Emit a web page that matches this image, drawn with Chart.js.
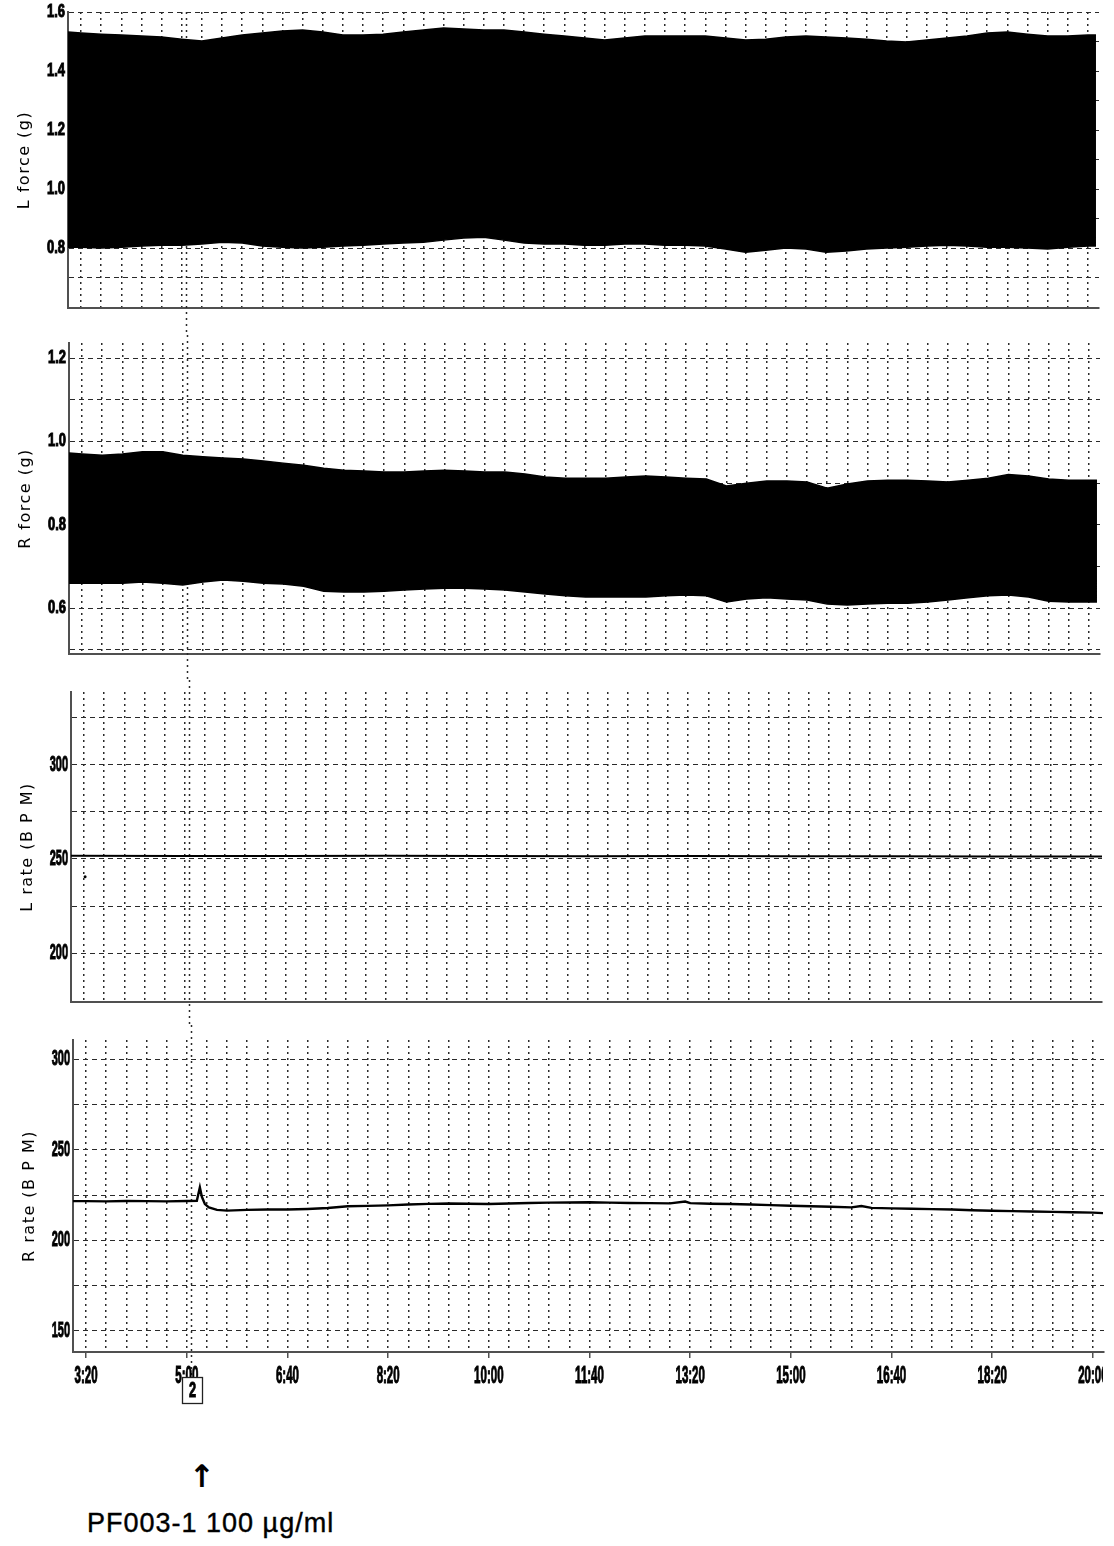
<!DOCTYPE html>
<html>
<head>
<meta charset="utf-8">
<script src="https://cdn.jsdelivr.net/npm/chart.js@4.4.1/dist/chart.umd.min.js"></script>
<style>
  body { margin: 0; background: #fff; width: 1114px; height: 1546px; position: relative; overflow: hidden; }
  canvas { position: absolute; }
  #arrow { position: absolute; left: 185px; top: 1461px; width: 34px; text-align: center;
           font: bold 31px "DejaVu Sans", sans-serif; line-height: 31px; color: #000; }
  #dose { position: absolute; left: 87px; top: 1510px; font: 27px "Liberation Sans", Arial, sans-serif;
          letter-spacing: 1px; line-height: 27px; color: #000; white-space: nowrap;
          -webkit-text-stroke: 0.4px #000; }
</style>
</head>
<body>
<canvas id="lForce" width="1114" height="335" style="left:-5px;top:0"></canvas>
<canvas id="rForce" width="1114" height="345" style="left:-4px;top:335px"></canvas>
<canvas id="lRate" width="1114" height="345" style="left:-2px;top:680px"></canvas>
<canvas id="rRate" width="1114" height="400" style="left:0;top:1025px"></canvas>
<div id="arrow">↑</div>
<div id="dose">PF003-1 100 µg/ml</div>

<script>
"use strict";

const INK = "#000";
const GRID = "#2a2a2a";
const AXIS = "#505050";

// time axis, minutes after midnight
const gridTimes = [200, 220, 240, 260, 280, 300, 320, 340, 360, 380, 400, 420, 440, 460, 480,
  500, 520, 540, 560, 580, 600, 620, 640, 660, 680, 700, 720, 740, 760, 780, 800, 820, 840,
  860, 880, 900, 920, 940, 960, 980, 1000, 1020, 1040, 1060, 1080, 1100, 1120, 1140, 1160,
  1180, 1200];
const labelTimes = [200, 300, 400, 500, 600, 700, 800, 900, 1000, 1100, 1200];
const doseTime = 304;
const doseMark = "2";

// contraction force envelopes (peak / trough of each beat), sampled every 20 min
const bandTimes = [187, 200, 220, 240, 260, 280, 300, 320, 340, 360, 380, 400, 420, 440, 460,
  480, 500, 520, 540, 560, 580, 600, 620, 640, 660, 680, 700, 720, 740, 760, 780, 800, 820,
  840, 860, 880, 900, 920, 940, 960, 980, 1000, 1020, 1040, 1060, 1080, 1100, 1120, 1140,
  1160, 1180, 1200, 1208];
const lForceHigh = [1.532, 1.529, 1.525, 1.522, 1.519, 1.515, 1.508, 1.502, 1.512, 1.522,
  1.529, 1.536, 1.539, 1.532, 1.522, 1.522, 1.525, 1.532, 1.539, 1.546,
  1.542, 1.539, 1.539, 1.532, 1.525, 1.519, 1.512, 1.505, 1.512, 1.519,
  1.519, 1.519, 1.519, 1.512, 1.505, 1.508, 1.515, 1.519, 1.515, 1.512,
  1.508, 1.502, 1.498, 1.505, 1.512, 1.519, 1.529, 1.532, 1.525, 1.519,
  1.519, 1.522, 1.522];
const lForceLow = [0.803, 0.803, 0.800, 0.803, 0.807, 0.810, 0.810, 0.814, 0.820, 0.817,
  0.807, 0.803, 0.800, 0.803, 0.807, 0.810, 0.814, 0.817, 0.820, 0.827,
  0.834, 0.837, 0.827, 0.817, 0.814, 0.814, 0.810, 0.810, 0.814, 0.814,
  0.810, 0.810, 0.807, 0.797, 0.786, 0.793, 0.800, 0.797, 0.786, 0.790,
  0.797, 0.800, 0.803, 0.807, 0.810, 0.807, 0.803, 0.803, 0.800, 0.797,
  0.803, 0.807, 0.807];
const rForceHigh = [0.972, 0.970, 0.967, 0.970, 0.975, 0.975, 0.967, 0.963, 0.960, 0.958,
  0.953, 0.948, 0.943, 0.936, 0.931, 0.929, 0.927, 0.927, 0.929, 0.931,
  0.929, 0.927, 0.927, 0.922, 0.915, 0.912, 0.912, 0.912, 0.915, 0.917,
  0.915, 0.912, 0.910, 0.893, 0.900, 0.905, 0.905, 0.903, 0.888, 0.898,
  0.905, 0.907, 0.907, 0.905, 0.903, 0.907, 0.912, 0.921, 0.917, 0.910,
  0.907, 0.907, 0.907];
const rForceLow = [0.660, 0.660, 0.660, 0.660, 0.663, 0.660, 0.656, 0.663, 0.668, 0.665,
  0.660, 0.658, 0.653, 0.641, 0.639, 0.639, 0.641, 0.644, 0.646, 0.648,
  0.648, 0.646, 0.644, 0.639, 0.634, 0.630, 0.627, 0.627, 0.627, 0.627,
  0.630, 0.632, 0.630, 0.615, 0.622, 0.625, 0.622, 0.620, 0.610, 0.608,
  0.610, 0.612, 0.612, 0.615, 0.620, 0.625, 0.630, 0.632, 0.627, 0.617,
  0.615, 0.615, 0.615];

// beating rates
const lRateTimes = [187, 300, 400, 500, 600, 700, 800, 900, 1000, 1100, 1211];
const lRateBpm = [251.6, 251.5, 251.5, 251.6, 251.5, 251.4, 251.5, 251.4, 251.4, 251.3, 251.3];
const lRateDropTimes = [201];
const lRateDropBpm = [240.5];
const rRateTimes = [187, 200, 220, 240, 260, 280, 300, 310, 313, 315, 318, 322, 330, 340, 360,
  380, 400, 420, 440, 460, 480, 500, 520, 540, 560, 580, 600, 620, 640, 660, 680, 700, 720,
  740, 760, 780, 795, 800, 820, 840, 860, 880, 900, 920, 940, 960, 970, 980, 1000, 1020,
  1040, 1060, 1080, 1100, 1120, 1140, 1160, 1180, 1200, 1210];
const rRateBpm = [221.6, 221.6, 221.5, 221.7, 221.6, 221.5, 221.7, 221.8, 229.2, 224.0, 220.0,
  218.2, 216.8, 216.4, 216.8, 217.0, 217.0, 217.3, 217.8, 218.8, 219.0, 219.3, 219.8, 220.1,
  220.3, 220.2, 220.0, 220.3, 220.6, 220.8, 220.9, 221.0, 220.8, 220.6, 220.5, 220.4, 221.4,
  220.5, 220.2, 220.0, 219.8, 219.4, 219.1, 218.8, 218.5, 218.2, 218.9, 217.9, 217.6, 217.4,
  217.2, 217.0, 216.6, 216.3, 216.1, 215.9, 215.7, 215.5, 215.3, 215.0];

// y ticks: dashed grid values and the ones that carry a label
const lForceGrid = [0.6, 0.7, 0.8, 0.9, 1.0, 1.1, 1.2, 1.3, 1.4, 1.5, 1.6];
const lForceLabels = [0.8, 1.0, 1.2, 1.4, 1.6];
const rForceGrid = [0.5, 0.6, 0.7, 0.8, 0.9, 1.0, 1.1, 1.2];
const rForceLabels = [0.6, 0.8, 1.0, 1.2];
const lRateGrid = [200, 225, 250, 275, 300, 325];
const lRateLabels = [200, 250, 300];
const rRateGrid = [150, 175, 200, 225, 250, 275, 300];
const rRateLabels = [150, 200, 250, 300];

const PANELS = {
  lForce: { title: "L force (g)", min: 0.597, max: 1.6, top: 12, xHeight: 27,
    grid: lForceGrid, labels: lForceLabels, digits: 1, size: 18, squeeze: 0.72, markTop: 12 },
  rForce: { title: "R force (g)", min: 0.4904, max: 1.236, top: 8, xHeight: 26,
    grid: rForceGrid, labels: rForceLabels, digits: 1, size: 18, squeeze: 0.72, markTop: 0 },
  lRate: { title: "L rate (B P M)", min: 174.1, max: 338.5, top: 12, xHeight: 23,
    grid: lRateGrid, labels: lRateLabels, digits: 0, size: 22, squeeze: 0.5, markTop: 0 },
  rRate: { title: "R rate (B P M)", min: 138.4, max: 310.5, top: 15, xHeight: 73,
    grid: rRateGrid, labels: rRateLabels, digits: 0, size: 22, squeeze: 0.5, markTop: 0,
    markBottom: 352, showTime: true },
};

const pts = (times, vals) => times.map((t, i) => ({ x: t, y: vals[i] }));

function hm(t) {
  return Math.floor(t / 60) + ":" + String(t % 60).padStart(2, "0");
}

// recorder-style condensed heavy text
function narrow(ctx, text, x, y, size, squeeze, align) {
  ctx.save();
  ctx.font = "bold " + size + "px 'Liberation Sans', Arial, sans-serif";
  ctx.fillStyle = INK;
  ctx.strokeStyle = INK;
  ctx.lineWidth = 1;
  ctx.textAlign = align;
  ctx.textBaseline = "middle";
  ctx.translate(x, y);
  ctx.scale(squeeze, 1);
  ctx.fillText(text, 0, 0);
  ctx.strokeText(text, 0, 0);
  ctx.restore();
}

const panelText = {
  id: "panelText",
  beforeDatasetsDraw(chart) {
    const p = PANELS[chart.canvas.id];
    const ctx = chart.ctx;
    const x = Math.round(chart.scales.x.getPixelForValue(doseTime)) + 0.5;
    ctx.save();
    ctx.strokeStyle = GRID;
    ctx.lineWidth = 1.5;
    ctx.setLineDash([2, 4]);
    ctx.beginPath();
    ctx.moveTo(x, p.markTop);
    ctx.lineTo(x, p.markBottom || chart.height);
    ctx.stroke();
    ctx.restore();
  },
  afterDraw(chart) {
    const p = PANELS[chart.canvas.id];
    const ctx = chart.ctx, area = chart.chartArea;
    const xs = chart.scales.x, ys = chart.scales.y;

    ctx.save();
    ctx.translate(30, (area.top + area.bottom) / 2);
    ctx.rotate(-Math.PI / 2);
    ctx.font = "16px 'DejaVu Sans', sans-serif";
    ctx.letterSpacing = "1.5px";
    ctx.fillStyle = INK;
    ctx.textAlign = "center";
    ctx.textBaseline = "middle";
    ctx.fillText(p.title, 0, 0);
    ctx.restore();

    p.labels.forEach(v => narrow(ctx, v.toFixed(p.digits), area.left - 3,
      ys.getPixelForValue(v), p.size, p.squeeze, "right"));

    if (!p.showTime) return;
    ctx.save();
    ctx.beginPath();
    ctx.rect(0, area.bottom, area.right - 1, chart.height - area.bottom);
    ctx.clip();
    labelTimes.forEach(t => narrow(ctx, hm(t), xs.getPixelForValue(t), area.bottom + 24.5, 23, 0.5, "center"));
    ctx.restore();

    // event marker box under the dose line
    const bx = Math.round(xs.getPixelForValue(doseTime)) + 1;
    const by = area.bottom + 25;
    ctx.save();
    ctx.fillStyle = "#fff";
    ctx.fillRect(bx - 10, by, 20, 26);
    ctx.strokeStyle = "#222";
    ctx.lineWidth = 1.3;
    ctx.strokeRect(bx - 10 + 0.5, by + 0.5, 20, 26);
    ctx.restore();
    narrow(ctx, doseMark, bx + 0.5, by + 14, 22, 0.58, "center");
  }
};

function band(times, high, low) {
  const style = { backgroundColor: INK, borderColor: INK, borderWidth: 1.5, pointRadius: 0, tension: 0 };
  return [
    { ...style, data: pts(times, high), fill: "+1" },
    { ...style, data: pts(times, low), fill: false },
  ];
}

function trace(times, vals, width) {
  return { data: pts(times, vals), borderColor: INK, borderWidth: width, pointRadius: 0, fill: false, tension: 0 };
}

function makePanel(id, datasets) {
  const p = PANELS[id];
  return new Chart(document.getElementById(id), {
    type: "line",
    data: { datasets },
    options: {
      responsive: false,
      animation: false,
      events: [],
      layout: { padding: { top: p.top, right: 10, left: 0, bottom: 0 } },
      plugins: { legend: { display: false }, tooltip: { enabled: false } },
      scales: {
        x: {
          type: "linear", min: 187, max: 1211,
          afterBuildTicks: s => { s.ticks = gridTimes.map(v => ({ value: v })); },
          afterFit: s => { s.height = p.xHeight; },
          ticks: { display: false },
          grid: {
            color: GRID, lineWidth: 1.5, drawTicks: !!p.showTime, tickLength: 6,
            tickColor: AXIS,
            tickWidth: c => (c.tick && c.tick.value % 100 === 0 ? 1.5 : 0),
          },
          border: { color: AXIS, width: 2, dash: [2, 4] },
        },
        y: {
          type: "linear", min: p.min, max: p.max,
          afterBuildTicks: s => { s.ticks = p.grid.map(v => ({ value: v })); },
          afterFit: s => { s.width = 73; },
          ticks: { display: false },
          grid: { color: GRID, lineWidth: 1, drawTicks: false },
          border: { color: AXIS, width: 2, dash: [5, 4] },
        },
      },
    },
    plugins: [panelText],
  });
}

makePanel("lForce", band(bandTimes, lForceHigh, lForceLow));
makePanel("rForce", band(bandTimes, rForceHigh, rForceLow));
makePanel("lRate", [
  trace(lRateTimes, lRateBpm, 2),
  { data: pts(lRateDropTimes, lRateDropBpm), showLine: false, pointRadius: 1.5,
    pointBackgroundColor: INK, pointBorderWidth: 0 },
]);
makePanel("rRate", [trace(rRateTimes, rRateBpm, 2.4)]);
</script>
</body>
</html>
